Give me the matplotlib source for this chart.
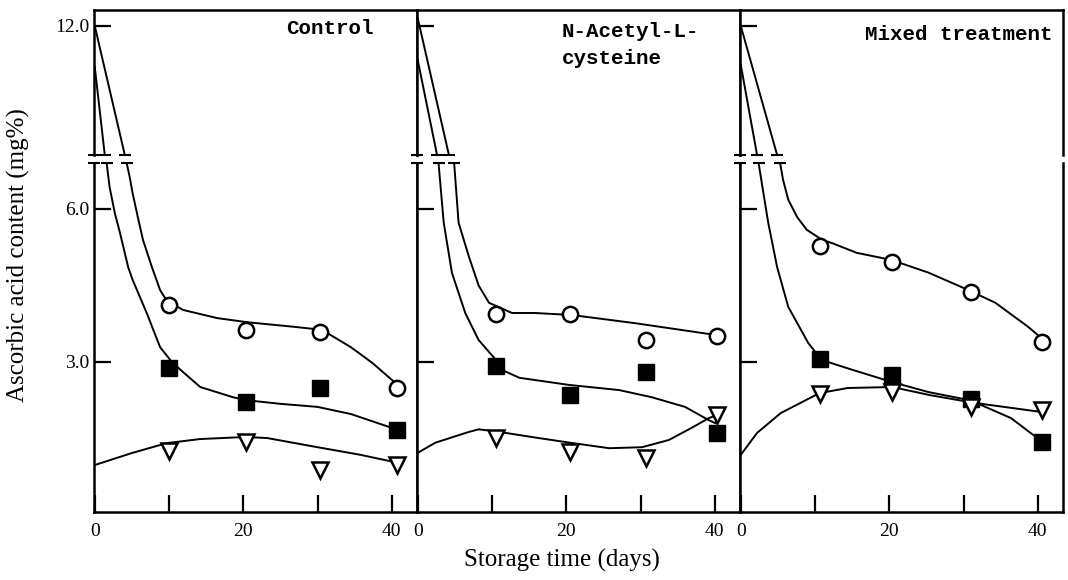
import matplotlib
matplotlib.use("Agg")
import matplotlib.pyplot as plt

# panel titles and axis text
panel_titles = ["Control", "N-Acetyl-L-\ncysteine", "Mixed treatment"]
x_ticks = [0, 10, 20, 30, 40]
x_ticklabels = ["0", "", "20", "", "40"]

# measured points (days, mg%) per panel
ctrl_days = [10, 20.4, 30.3, 40.7]
ctrl_circle = [4.11, 3.62, 3.58, 2.49]
ctrl_square = [2.88, 2.22, 2.49, 1.66]
ctrl_tri = [1.26, 1.44, 0.88, 0.98]

nac_days = [10.6, 20.5, 30.7, 40.3]
nac_circle = [3.95, 3.94, 3.43, 3.51]
nac_square = [2.92, 2.36, 2.81, 1.60]
nac_tri = [1.52, 1.23, 1.11, 1.97]

mix_days = [10.7, 20.4, 31.0, 40.6]
mix_circle = [5.28, 4.95, 4.38, 3.39]
mix_square = [3.06, 2.75, 2.28, 1.44]
mix_tri = [2.38, 2.42, 2.12, 2.05]

# hand-fitted curves (day, mg%)
ctrl_circ_fit_d = [0, 4.05, 4.3, 4.7, 5.1, 5.8, 6.5, 7.7, 8.8, 9.7, 11.9, 16.5, 20.5, 26.8, 30.6, 34.5, 37.4, 40.8]
ctrl_circ_fit_v = [12.0, 9.47, 6.9, 6.63, 6.31, 5.84, 5.39, 4.86, 4.41, 4.2, 4.02, 3.86, 3.78, 3.69, 3.63, 3.29, 2.98, 2.55]
ctrl_sq_fit_d = [0, 1.35, 1.6, 2.0, 2.7, 3.4, 4.5, 5.1, 7.0, 8.8, 10.5, 14.2, 18.6, 20.5, 25, 30, 34.5, 40.8]
ctrl_sq_fit_v = [11.2, 9.47, 6.9, 6.43, 5.92, 5.53, 4.86, 4.61, 3.96, 3.29, 2.98, 2.51, 2.31, 2.25, 2.18, 2.12, 1.98, 1.67]
ctrl_tri_fit_d = [0, 5.1, 9.7, 14.2, 20.3, 23.2, 30, 35.8, 40.3]
ctrl_tri_fit_v = [0.98, 1.22, 1.41, 1.49, 1.53, 1.51, 1.33, 1.18, 1.04]

nac_circ_fit_d = [0, 4.2, 4.9, 5.5, 6.9, 8.2, 9.6, 12.7, 15.8, 20.8, 29.3, 40.1]
nac_circ_fit_v = [12.15, 9.47, 6.9, 5.73, 5.06, 4.5, 4.16, 3.96, 3.96, 3.92, 3.76, 3.53]
nac_sq_fit_d = [0, 2.6, 2.8, 3.5, 4.6, 6.4, 8.2, 10.3, 11.4, 13.7, 20.4, 27.1, 31.5, 36, 39.2, 40.1]
nac_sq_fit_v = [11.33, 9.47, 6.9, 5.73, 4.75, 3.96, 3.43, 3.08, 2.84, 2.69, 2.55, 2.45, 2.31, 2.12, 1.86, 1.8]
nac_tri_fit_d = [0, 2.4, 6.9, 8.2, 10.5, 15.8, 20.4, 25.8, 30.2, 33.8, 36.9, 39.2, 40.3]
nac_tri_fit_v = [1.22, 1.42, 1.63, 1.68, 1.64, 1.52, 1.42, 1.31, 1.33, 1.47, 1.71, 1.9, 1.96]

mix_circ_fit_d = [0, 4.9, 5.3, 5.7, 6.4, 7.6, 8.9, 11.0, 12.3, 15.6, 20.3, 25.3, 30.5, 34.3, 38.7, 40.8]
mix_circ_fit_v = [12.0, 9.47, 6.9, 6.57, 6.18, 5.84, 5.59, 5.39, 5.33, 5.14, 5.0, 4.75, 4.42, 4.16, 3.69, 3.43]
mix_sq_fit_d = [0, 2.2, 2.4, 3.7, 4.9, 6.4, 9.1, 10.9, 14.3, 20.3, 25.3, 30.9, 36.4, 40.3]
mix_sq_fit_v = [11.24, 9.47, 6.9, 5.73, 4.86, 4.08, 3.37, 3.04, 2.88, 2.61, 2.41, 2.25, 1.90, 1.47]
mix_tri_fit_d = [0, 2.2, 5.4, 10.6, 14.4, 20.4, 25.5, 31.4, 40.5]
mix_tri_fit_v = [1.18, 1.61, 2.0, 2.39, 2.49, 2.51, 2.35, 2.2, 2.02]

panels = [
    (ctrl_days, ctrl_circle, ctrl_square, ctrl_tri,
     [(ctrl_circ_fit_d, ctrl_circ_fit_v), (ctrl_sq_fit_d, ctrl_sq_fit_v), (ctrl_tri_fit_d, ctrl_tri_fit_v)]),
    (nac_days, nac_circle, nac_square, nac_tri,
     [(nac_circ_fit_d, nac_circ_fit_v), (nac_sq_fit_d, nac_sq_fit_v), (nac_tri_fit_d, nac_tri_fit_v)]),
    (mix_days, mix_circle, mix_square, mix_tri,
     [(mix_circ_fit_d, mix_circ_fit_v), (mix_sq_fit_d, mix_sq_fit_v), (mix_tri_fit_d, mix_tri_fit_v)]),
]

low_lim = (0.06, 6.9)
up_lim = (9.47, 12.31)

W, H = 1068, 580
x0, pw = 94, 323
top, brk_hi, brk_lo, bottom = 10, 155, 163, 512

fig = plt.figure(figsize=(W / 100, H / 100), dpi=100)
serif = "Liberation Serif"
mono = "Liberation Mono"
# title anchor (axes fraction of the upper axes) and alignment
title_pos = [(0.867, 0.875, "right"), (0.449, 0.76, "left"), (0.969, 0.83, "right")]

for i, (days, circ, sq, tri, fits) in enumerate(panels):
    left = (x0 + i * pw) / W
    ax_up = fig.add_axes([left, 1 - brk_hi / H, pw / W, (brk_hi - top) / H])
    ax_lo = fig.add_axes([left, 1 - bottom / H, pw / W, (bottom - brk_lo) / H])

    for ax, lim in ((ax_up, up_lim), (ax_lo, low_lim)):
        ax.set_xlim(-0.1, 43.4)
        ax.set_ylim(*lim)
        for s in ax.spines.values():
            s.set_linewidth(1.8)
        ax.tick_params(direction="in", length=12, width=1.6, labelsize=14,
                       right=False, top=False)
        for d, v in fits:
            ax.plot(d, v, color="black", lw=1.4)

    ax_up.spines["bottom"].set_visible(False)
    ax_lo.spines["top"].set_visible(False)
    ax_up.set_xticks([])
    ax_up.set_yticks([12.0])
    ax_lo.set_yticks([3.0, 6.0])
    ax_lo.set_xticks(x_ticks, x_ticklabels)
    if i == 0:
        ax_up.set_yticklabels(["12.0"])
        ax_lo.set_yticklabels(["3.0", "6.0"])
    else:
        ax_up.tick_params(labelleft=False)
        ax_lo.tick_params(labelleft=False)
    for lab in ax_lo.get_xticklabels() + ax_lo.get_yticklabels() + ax_up.get_yticklabels():
        lab.set_fontfamily(serif)
    ax_lo.tick_params(axis="x", pad=8)

    # break caps on the axis and on the curves that cross the break
    ax_up.plot([0], [0], marker="_", ms=9, mew=1.5, color="black",
               transform=ax_up.transAxes, clip_on=False)
    ax_lo.plot([0], [1], marker="_", ms=9, mew=1.5, color="black",
               transform=ax_lo.transAxes, clip_on=False)
    for d, v in fits[:2]:
        ax_up.plot(d[1], v[1], marker="_", ms=9, mew=1.5, color="black", clip_on=False)
        ax_lo.plot(d[2], v[2], marker="_", ms=9, mew=1.5, color="black", clip_on=False)

    ax_lo.plot(days, circ, "o", ms=11, mfc="white", mec="black", mew=1.8, ls="none")
    ax_lo.plot(days, sq, "s", ms=11, mfc="black", mec="black", ls="none")
    ax_lo.plot(days, tri, "v", ms=12, mfc="white", mec="black", mew=1.8, ls="none")

    tx, ty, ha = title_pos[i]
    ax_up.text(tx, ty, panel_titles[i], transform=ax_up.transAxes, ha=ha, va="center",
               fontfamily=mono, fontweight="bold", fontsize=15, linespacing=1.55)

fig.text(0.017, 0.56, "Ascorbic acid content (mg%)", rotation=90, ha="center",
         va="center", fontfamily=serif, fontsize=18)
fig.text(0.526, 0.034, "Storage time (days)", ha="center", va="center",
         fontfamily=serif, fontsize=18)

fig.savefig("out.png", dpi=100)
